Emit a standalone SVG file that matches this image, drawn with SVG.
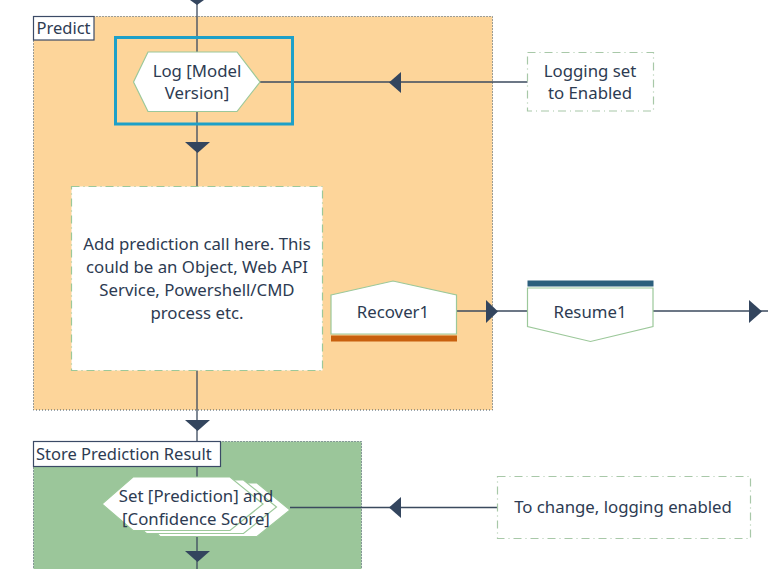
<svg xmlns="http://www.w3.org/2000/svg" width="768" height="569" viewBox="0 0 768 569">
<style>
.t{font-family:"Noto Sans","Open Sans","Liberation Sans",sans-serif;font-size:16.8px;fill:#2D3B52;text-anchor:middle}
.tl{font-family:"Noto Sans","Open Sans","Liberation Sans",sans-serif;font-size:16.5px;fill:#2D3B52}
.cont{stroke:#3B5060;stroke-width:1;stroke-dasharray:1 2}
.lbl{fill:#fff;stroke:#3B4A66;stroke-width:1.2}
.shape{fill:#fff;stroke:#9CC89A;stroke-width:1.2}
.ann{fill:#fff;stroke:#A8C8A8;stroke-width:1.2;stroke-dasharray:8 4 1 4}
.ln{stroke:#3B4A5E;stroke-width:1.3;fill:none}
.ah{fill:#33455E}
</style>
<g id="predict">
<rect x="33.5" y="16.5" width="459" height="393.5" fill="#FDD59A" class="cont"/>
<rect x="33.5" y="16.5" width="60.5" height="23.5" class="lbl"/>
<text x="36.5" y="34" class="tl">Predict</text>
</g>
<g id="store">
<rect x="33.5" y="441.5" width="328" height="140" fill="#9BC69A" class="cont"/>
</g>
<g id="connectors">
<line x1="197" y1="0" x2="197" y2="569" class="ln"/>
<line x1="260" y1="82" x2="528" y2="82" class="ln"/>
<line x1="457" y1="311" x2="528" y2="311" class="ln"/>
<line x1="653" y1="311" x2="768" y2="311" class="ln"/>
<line x1="290" y1="507.5" x2="497" y2="507.5" class="ln"/>
<path class="ah" d="M190,0 L204,0 L197,5 Z"/>
<path class="ah" d="M185,142 L210,142 L197.5,153 Z"/>
<path class="ah" d="M185,420 L210,420 L197.5,431 Z"/>
<path class="ah" d="M185,551 L210,551 L197.5,562 Z"/>
<path class="ah" d="M401,72 L401,93 L389,82.5 Z"/>
<path class="ah" d="M401,497 L401,518 L389,507.5 Z"/>
<path class="ah" d="M486,300 L486,323 L498,311.5 Z"/>
<path class="ah" d="M749,300 L749,323 L762,311.5 Z"/>
</g>
<g id="store-label">
<rect x="33.5" y="441.5" width="187" height="25" class="lbl"/>
<text x="36" y="460" class="tl">Store Prediction Result</text>
</g>
<g id="log">
<rect x="115.5" y="37.5" width="177" height="86.5" fill="none" stroke="#1EA0C8" stroke-width="3"/>
<path class="shape" d="M133.5,82 L148,52 L237,52 L260,82 L237,111.5 L148,111.5 Z"/>
<text x="197" y="77" class="t">Log [Model</text>
<text x="197" y="99" class="t">Version]</text>
</g>
<g id="logging-set">
<rect x="527.5" y="52.5" width="126" height="58.5" class="ann"/>
<text x="590" y="77" class="t">Logging set</text>
<text x="590" y="99" class="t">to Enabled</text>
</g>
<g id="prediction-call">
<rect x="71.5" y="186.5" width="251" height="184" fill="#fff" stroke="#9CC89A" stroke-width="1.2" stroke-dasharray="8 4 1 4"/>
<text x="197" y="250" class="t">Add prediction call here. This</text>
<text x="197" y="273" class="t">could be an Object, Web API</text>
<text x="197" y="296" class="t">Service, Powershell/CMD</text>
<text x="197" y="319" class="t">process etc.</text>
</g>
<g id="recover1">
<path class="shape" d="M331,295 L393,281 L456.5,295 L456.5,334 L331,334 Z"/>
<rect x="331" y="335.5" width="126" height="6" fill="#C8600E"/>
<text x="393" y="318" class="t">Recover1</text>
</g>
<g id="resume1">
<rect x="527.5" y="280.5" width="126" height="6" fill="#2C5F7D"/>
<path class="shape" d="M527.5,288 L653,288 L653,326.5 L590.5,341.5 L527.5,326.5 Z"/>
<text x="590" y="318" class="t">Resume1</text>
</g>
<g id="set-prediction">
<path class="shape" d="M129,504 L160,483 L257,483 L290,510 L257,536.5 L160,536.5 Z"/>
<path class="shape" d="M115.5,507 L146.5,480 L243.5,480 L276.5,507 L243.5,533.5 L146.5,533.5 Z"/>
<path class="shape" d="M102,504 L133,477 L230,477 L263,504 L230,530.5 L133,530.5 Z" stroke="none"/>
<text x="196" y="502" class="t">Set [Prediction] and</text>
<text x="196" y="525" class="t">[Confidence Score]</text>
</g>
<g id="to-change">
<rect x="497.5" y="476.5" width="253" height="62" class="ann"/>
<text x="623" y="513" class="t">To change, logging enabled</text>
</g>
</svg>
